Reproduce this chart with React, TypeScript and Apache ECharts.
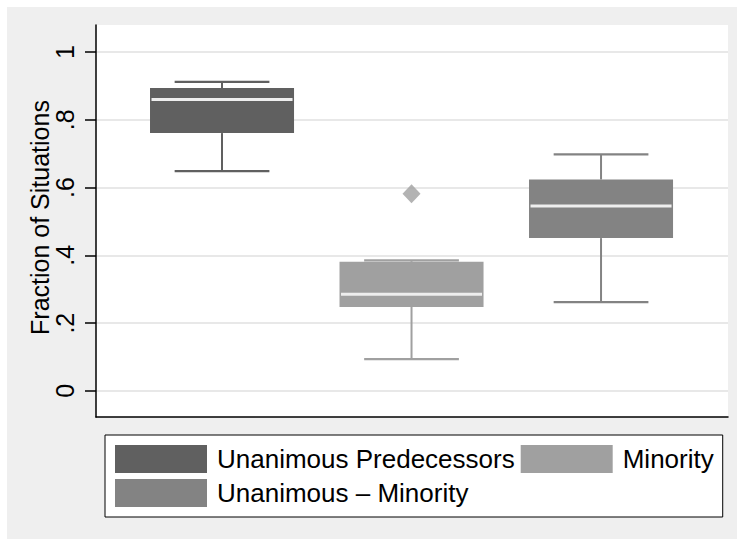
import React, { useEffect, useRef } from "react";
import * as echarts from "echarts";

const categories = ["Unanimous Predecessors", "Minority", "Unanimous – Minority"];
const groupPositions = [1, 2, 3];
const lowerWhisker = [0.649, 0.094, 0.262];
const lowerQuartile = [0.761, 0.248, 0.451];
const medians = [0.86, 0.285, 0.546];
const upperQuartile = [0.894, 0.381, 0.624];
const upperWhisker = [0.912, 0.385, 0.698];
const outlierGroup = [2];
const outlierValues = [0.582];
const yTicks = [0, 0.2, 0.4, 0.6, 0.8, 1];
const yTickLabels = ["0", ".2", ".4", ".6", ".8", "1"];

const boxColors = ["#606060", "#a0a0a0", "#838383"];
const FONT = "'Liberation Sans', Arial, Helvetica, sans-serif";

const X_MIN = 0.335;
const X_MAX = 3.67;
const Y_MIN = -0.077;
const Y_MAX = 1.08;
const GRID_LEFT = 89;
const GRID_TOP = 18;
const GRID_W = 632;
const GRID_H = 392;
const BOX_HALF = 0.38;
const CAP_HALF = 0.25;

export default function App() {
  const ref = useRef<HTMLDivElement>(null);

  useEffect(() => {
    if (!ref.current) return;
    const chart = echarts.init(ref.current, null, { renderer: "svg" });
    const pxPerUnit = GRID_H / (Y_MAX - Y_MIN);
    const tickMin = yTicks[0];
    const tickMax = yTicks[yTicks.length - 1];
    const grid1Top = GRID_TOP + (Y_MAX - tickMax) * pxPerUnit;
    const grid1Height = (tickMax - tickMin) * pxPerUnit;

    const boxSeries = categories.map((name, i) => ({
      type: "custom",
      name,
      xAxisIndex: 0,
      yAxisIndex: 0,
      itemStyle: { color: boxColors[i] },
      encode: { x: 0, y: [1, 2, 3, 4, 5] },
      data: [[groupPositions[i], lowerWhisker[i], lowerQuartile[i], medians[i], upperQuartile[i], upperWhisker[i]]],
      z: 3,
      renderItem: (params: any, api: any) => {
        const x = api.value(0);
        const lo = api.value(1);
        const q1 = api.value(2);
        const md = api.value(3);
        const q3 = api.value(4);
        const hi = api.value(5);
        const color = boxColors[i];
        const [xl, yq3] = api.coord([x - BOX_HALF, q3]);
        const [xr, yq1] = api.coord([x + BOX_HALF, q1]);
        const [xc, ylo] = api.coord([x, lo]);
        const yhi = api.coord([x, hi])[1];
        const ymd = api.coord([x, md])[1];
        const cl = api.coord([x - CAP_HALF, lo])[0];
        const cr = api.coord([x + CAP_HALF, lo])[0];
        return {
          type: "group",
          children: [
            { type: "line", shape: { x1: xc, y1: yq3, x2: xc, y2: yhi }, style: { stroke: color, lineWidth: 2 } },
            { type: "line", shape: { x1: xc, y1: yq1, x2: xc, y2: ylo }, style: { stroke: color, lineWidth: 2 } },
            { type: "line", shape: { x1: cl, y1: yhi, x2: cr, y2: yhi }, style: { stroke: color, lineWidth: 2.2 } },
            { type: "line", shape: { x1: cl, y1: ylo, x2: cr, y2: ylo }, style: { stroke: color, lineWidth: 2.2 } },
            { type: "rect", shape: { x: xl, y: yq3, width: xr - xl, height: yq1 - yq3 }, style: { fill: color } },
            { type: "line", shape: { x1: xl + 1.5, y1: ymd, x2: xr - 1.5, y2: ymd }, style: { stroke: "#eeeeee", lineWidth: 3 } },
          ],
        };
      },
    }));

    chart.setOption({
      animation: false,
      backgroundColor: "#efefef",
      textStyle: { fontFamily: FONT, color: "#000" },
      grid: [
        { left: GRID_LEFT, top: GRID_TOP, width: GRID_W, height: GRID_H, show: true, backgroundColor: "#ffffff", borderWidth: 0 },
        { left: GRID_LEFT, top: grid1Top, width: GRID_W, height: grid1Height, show: false },
      ],
      xAxis: [
        {
          type: "value",
          gridIndex: 0,
          min: X_MIN,
          max: X_MAX,
          axisLine: { show: true, onZero: false, lineStyle: { color: "#000", width: 1.5 } },
          axisTick: { show: false },
          axisLabel: { show: false },
          splitLine: { show: false },
        },
        { type: "value", gridIndex: 1, min: X_MIN, max: X_MAX, show: false },
      ],
      yAxis: [
        {
          type: "value",
          gridIndex: 0,
          min: Y_MIN,
          max: Y_MAX,
          axisLine: { show: true, onZero: false, lineStyle: { color: "#000", width: 1.5 } },
          axisTick: { show: false },
          axisLabel: { show: false },
          splitLine: { show: false },
        },
        {
          type: "value",
          gridIndex: 1,
          position: "left",
          min: tickMin,
          max: tickMax,
          interval: 0.2,
          axisLine: { show: false },
          axisTick: { show: true, length: 11, lineStyle: { color: "#000", width: 1.5 } },
          axisLabel: {
            rotate: 90,
            margin: 19,
            fontSize: 25,
            color: "#000",
            fontFamily: FONT,
            formatter: (v: number) => {
              const idx = yTicks.findIndex((t) => Math.abs(t - v) < 1e-6);
              return idx >= 0 ? yTickLabels[idx] : "";
            },
          },
          splitLine: { show: true, lineStyle: { color: "#e8e8e8", width: 2 } },
          name: "Fraction of Situations",
          nameLocation: "middle",
          nameRotate: 90,
          nameGap: 44,
          nameMoveOverlap: false,
          nameTextStyle: { fontSize: 25, color: "#000", fontFamily: FONT, padding: [0, 0, 0, 8] },
        },
      ],
      legend: {
        left: 98,
        top: 428,
        width: 600,
        padding: [10, 9, 10, 10],
        itemWidth: 92,
        itemHeight: 28,
        itemGap: 6,
        icon: "rect",
        backgroundColor: "#ffffff",
        borderColor: "#000",
        borderWidth: 1,
        borderRadius: 0,
        selectedMode: false,
        textStyle: { fontSize: 26, lineHeight: 28, color: "#000", fontFamily: FONT, padding: [0, 0, 0, 5] },
        data: categories.map((name, i) => ({ name, itemStyle: { color: boxColors[i] } })),
      },
      series: [
        ...boxSeries,
        {
          type: "scatter",
          name: "outliers",
          xAxisIndex: 0,
          yAxisIndex: 0,
          symbol: "diamond",
          symbolSize: [18, 19],
          itemStyle: { color: "#a0a0a0" },
          z: 4,
          data: outlierGroup.map((g, k) => [g, outlierValues[k]]),
        },
      ],
    });
    return () => chart.dispose();
  }, []);

  return (
    <div style={{ position: "absolute", left: 0, top: 0, width: 737, height: 539, background: "#fff" }}>
      <div ref={ref} style={{ position: "absolute", left: 7, top: 7, width: 730, height: 532 }} />
    </div>
  );
}
